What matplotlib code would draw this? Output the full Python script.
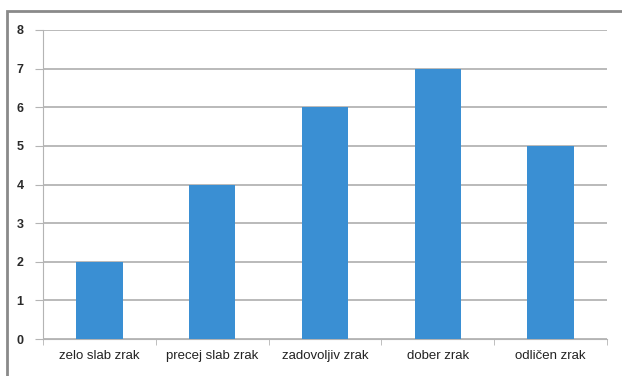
import matplotlib.pyplot as plt
from matplotlib.patches import Rectangle
import numpy as np

categories = ['zelo slab zrak', 'precej slab zrak', 'zadovoljiv zrak', 'dober zrak', 'odličen zrak']
counts = [2, 4, 6, 7, 5]
y_ticks = [0, 1, 2, 3, 4, 5, 6, 7, 8]

plt.rcParams['font.family'] = ['Liberation Sans Narrow', 'Liberation Sans', 'DejaVu Sans']

fig = plt.figure(figsize=(6.22, 3.76), dpi=100)
fig.patch.set_facecolor('white')

# grey chart-area border, running off the right and bottom edges
fig.patches.append(Rectangle((7 / 622, -0.1), 1.0, (376 - 11) / 376 + 0.1,
                             transform=fig.transFigure, fill=False,
                             edgecolor='#8a8a8a', linewidth=2.0))

ax = fig.add_axes([43 / 622, 37 / 376, 564 / 622, 309 / 376])
x = np.arange(len(categories))
ax.bar(x, counts, width=0.41, color='#3a8fd3', zorder=3)

ax.set_xlim(-0.5, len(categories) - 0.5)
ax.set_ylim(0, 8)
ax.set_yticks(y_ticks)
ax.set_yticklabels([str(v) for v in y_ticks], fontsize=9, fontweight='bold', color='#2a2a2a')
ax.grid(axis='y', color='#b4b4b4', linewidth=1.3, zorder=0)

# category labels centred under bars, tick marks between categories
ax.set_xticks(x)
ax.set_xticklabels(categories, fontsize=9.5, color='#222222')
ax.tick_params(axis='x', length=0, pad=8)
ax.set_xticks(np.arange(len(categories) + 1) - 0.5, minor=True)
ax.tick_params(axis='x', which='minor', length=4, color='#b4b4b4')
ax.tick_params(axis='y', length=6, color='#b4b4b4', pad=8)

for side in ['top', 'right']:
    ax.spines[side].set_visible(False)
ax.spines['left'].set_color('#b4b4b4')
ax.spines['bottom'].set_color('#b4b4b4')

fig.savefig('out.png', dpi=100)
